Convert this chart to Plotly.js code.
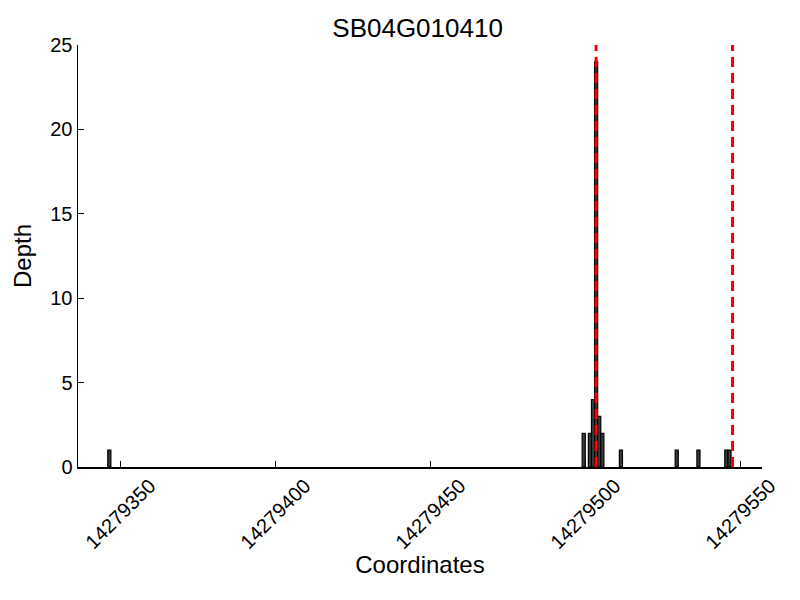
<!DOCTYPE html>
<html>
<head>
<meta charset="utf-8">
<script src="https://cdn.plot.ly/plotly-3.0.1.min.js"></script>
<style>body{margin:0;background:#fff}#chart{width:800px;height:600px}</style>
</head>
<body>
<div id="chart"></div>
<script>
const positions = [14279346, 14279499, 14279501, 14279502, 14279503, 14279504, 14279505, 14279511, 14279529, 14279536, 14279545, 14279546];
const depths    = [1, 2, 2, 4, 24, 3, 2, 1, 1, 1, 1, 1];
const geneBounds = [14279503.5, 14279547.5];
const xTicks = [14279350, 14279400, 14279450, 14279500, 14279550];
const xTickLabels = ["14279350", "14279400", "14279450", "14279500", "14279550"];
const yTicks = [0, 5, 10, 15, 20, 25];
const title = "SB04G010410";

const FONT = "Liberation Sans, Arial, sans-serif";

const bars = {
  type: "bar",
  x: positions,
  y: depths,
  width: 1,
  offset: 0,
  marker: {color: "#3c3c3c", line: {color: "#000000", width: 1.2}},
  hoverinfo: "x+y"
};

const shapes = geneBounds.map(g => ({
  type: "line", xref: "x", yref: "paper",
  x0: g, x1: g, y0: 0, y1: 1,
  line: {color: "#ff0000", width: 3, dash: "10px,6px"}
}));

const annotations = xTicks.map((t, i) => ({
  x: t, xref: "x", y: 0, yref: "paper",
  text: xTickLabels[i], showarrow: false,
  textangle: -45, xanchor: "center", yanchor: "top", yshift: -5,
  font: {family: FONT, size: 20, color: "#000"}
}));

const layout = {
  width: 800, height: 600,
  margin: {l: 78, r: 38, t: 45, b: 133},
  paper_bgcolor: "#ffffff", plot_bgcolor: "#ffffff",
  title: {text: title, font: {family: FONT, size: 26, color: "#000"}, x: 0.522, xanchor: "center", y: 0.953, yanchor: "middle"},
  showlegend: false,
  bargap: 0,
  xaxis: {
    range: [14279336.4, 14279557],
    tickvals: xTicks, showticklabels: false,
    ticks: "inside", ticklen: 6, tickcolor: "#000",
    showline: true, linecolor: "#000", linewidth: 1.5,
    showgrid: false, zeroline: false,
    title: {text: "Coordinates", font: {family: FONT, size: 24, color: "#000"}, standoff: 88},
    automargin: false
  },
  yaxis: {
    range: [0, 25],
    tickvals: yTicks,
    ticks: "inside", ticklen: 6, tickcolor: "#000",
    showline: true, linecolor: "#000", linewidth: 1.5,
    showgrid: false, zeroline: false,
    tickfont: {family: FONT, size: 20, color: "#000"},
    title: {text: "Depth", font: {family: FONT, size: 24, color: "#000"}, standoff: 12},
    automargin: false
  },
  shapes: shapes,
  annotations: annotations
};

Plotly.newPlot("chart", [bars], layout, {displayModeBar: false, staticPlot: true});
</script>
</body>
</html>
